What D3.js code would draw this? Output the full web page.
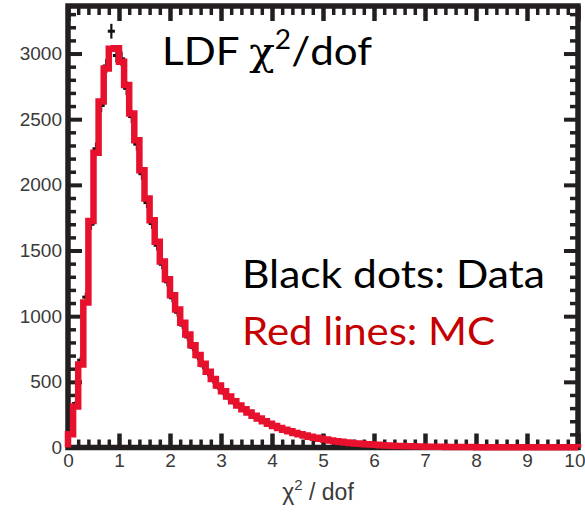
<!DOCTYPE html>
<html>
<head>
<meta charset="utf-8">
<script src="https://cdn.jsdelivr.net/npm/d3@7"></script>
<style>
  html, body { margin: 0; padding: 0; background: #fff; }
  svg { display: block; }
</style>
</head>
<body>
<svg id="chart" width="585" height="512"></svg>
<script>
// ---- data ----
const binWidth = 0.1;
const mcCounts = [
  100, 312, 632, 1104, 1724, 2245, 2635, 2886, 3036, 3040,
  2937, 2760, 2544, 2340, 2112, 1896, 1730, 1566, 1417, 1282,
  1160, 1050, 950, 860, 778, 704, 637, 577, 522, 472,
  428, 388, 352, 320, 292, 266, 242, 220, 199, 181,
  164, 149, 135, 123, 111, 101, 91, 82, 74, 67,
  60, 54, 48, 43, 39, 35, 31, 28, 25, 22,
  20, 18, 16, 14, 12, 11, 10, 9, 8, 7,
  6, 6, 5, 5, 4, 4, 4, 3, 3, 3,
  2, 2, 2, 2, 2, 2, 1, 1, 1, 1,
  1, 1, 1, 1, 1, 1, 1, 1, 1, 1
];
const dataCounts = [
  95, 335, 665, 1145, 1700, 2275, 2605, 2905, 3170, 2985,
  2960, 2735, 2520, 2310, 2085, 1865, 1705, 1540, 1395, 1262,
  1140, 1030, 932, 842, 762, 690, 622, 565, 510, 460,
  418, 378, 343, 312, 285, 259, 236, 214, 194, 176,
  160, 146, 132, 120, 108, 99, 89, 80, 72, 65,
  58, 52, 47, 42, 38, 34, 30, 27, 24, 21,
  19, 17, 15, 13, 12, 10, 9, 8, 7, 7,
  6, 5, 5, 4, 4, 3, 3, 3, 3, 2,
  2, 2, 2, 2, 1, 1, 1, 1, 1, 1,
  1, 1, 1, 1, 1, 1, 1, 1, 1, 1
];
const xMajorTicks = [0, 1, 2, 3, 4, 5, 6, 7, 8, 9, 10];
const xTickLabels = ["0", "1", "2", "3", "4", "5", "6", "7", "8", "9", "10"];
const yMajorTicks = [0, 500, 1000, 1500, 2000, 2500, 3000];
const yTickLabels = ["0", "500", "1000", "1500", "2000", "2500", "3000"];
const xMinorStep = 0.2;
const yMinorStep = 100;
const titleText = "LDF ";
const legendData = "Black dots: Data";
const legendMC = "Red lines: MC";

// ---- layout ----
const svg = d3.select("#chart");
const x = d3.scaleLinear().domain([0, 10]).range([68, 578]);
const y = d3.scaleLinear().domain([0, 3362]).range([447.5, 6]);
const frameColor = "#231f20";
const red = "#e8112d";
const labelFont = "'Liberation Sans', Arial, sans-serif";

const xMinor = d3.range(0, 10 + 1e-9, xMinorStep).filter(v => Math.abs(v - Math.round(v)) > 1e-6);
const yMinor = d3.range(0, 3362, yMinorStep).filter(v => v % 500 !== 0);

// data points (under the MC line)
const gData = svg.append("g");
dataCounts.forEach((c, i) => {
  const xc = x((i + 0.5) * binWidth);
  const err = Math.sqrt(c);
  gData.append("line")
    .attr("x1", xc).attr("x2", xc)
    .attr("y1", y(c + err)).attr("y2", y(Math.max(0, c - err)))
    .attr("stroke", "#111").attr("stroke-width", 2.2);
  gData.append("line")
    .attr("x1", x(i * binWidth) - 1).attr("x2", x((i + 1) * binWidth) + 1)
    .attr("y1", y(c)).attr("y2", y(c))
    .attr("stroke", "#111").attr("stroke-width", 3);
});

// frame
svg.append("rect")
  .attr("x", x(0)).attr("y", y(3362))
  .attr("width", x(10) - x(0)).attr("height", y(0) - y(3362))
  .attr("fill", "none").attr("stroke", frameColor).attr("stroke-width", 5.5);

function styleAxis(g, w) {
  g.select(".domain").remove();
  g.selectAll(".tick line").attr("stroke", frameColor).attr("stroke-width", w);
}

// bottom axis with labels
const gB = svg.append("g").attr("transform", `translate(0,${y(0)})`)
  .call(d3.axisBottom(x).tickValues(xMajorTicks).tickSize(-14).tickPadding(6)
    .tickFormat((d, i) => xTickLabels[i]));
styleAxis(gB, 4.5);
gB.selectAll("text").attr("font-family", labelFont)
  .attr("font-size", 19).attr("fill", "#3a3a3a");
gB.selectAll(".tick").filter(d => d === 10).select("text")
  .attr("text-anchor", "end").attr("x", 585 - x(10));
svg.append("g").attr("transform", `translate(0,${y(0)})`)
  .call(d3.axisBottom(x).tickValues(xMinor).tickSize(-8).tickFormat(""))
  .call(g => styleAxis(g, 3.5));
// top axis
svg.append("g").attr("transform", `translate(0,${y(3362)})`)
  .call(d3.axisTop(x).tickValues(xMajorTicks).tickSize(-15).tickFormat(""))
  .call(g => styleAxis(g, 4.5));
svg.append("g").attr("transform", `translate(0,${y(3362)})`)
  .call(d3.axisTop(x).tickValues(xMinor).tickSize(-9).tickFormat(""))
  .call(g => styleAxis(g, 3.5));
// left axis with labels
const gL = svg.append("g").attr("transform", `translate(${x(0)},0)`)
  .call(d3.axisLeft(y).tickValues(yMajorTicks).tickSize(-14).tickPadding(6)
    .tickFormat((d, i) => yTickLabels[i]));
styleAxis(gL, 4);
gL.selectAll("text").attr("font-family", labelFont)
  .attr("font-size", 19).attr("fill", "#3a3a3a");
svg.append("g").attr("transform", `translate(${x(0)},0)`)
  .call(d3.axisLeft(y).tickValues(yMinor).tickSize(-8).tickFormat(""))
  .call(g => styleAxis(g, 3.5));
// right axis
svg.append("g").attr("transform", `translate(${x(10)},0)`)
  .call(d3.axisRight(y).tickValues(yMajorTicks).tickSize(-14).tickFormat(""))
  .call(g => styleAxis(g, 4));
svg.append("g").attr("transform", `translate(${x(10)},0)`)
  .call(d3.axisRight(y).tickValues(yMinor).tickSize(-8).tickFormat(""))
  .call(g => styleAxis(g, 3.5));

// MC histogram outline
const pts = [[0, 0]];
mcCounts.forEach((c, i) => {
  pts.push([i * binWidth, c]);
  pts.push([(i + 1) * binWidth, c]);
});
pts.push([10, 0]);
svg.append("path")
  .datum(pts)
  .attr("d", d3.line().x(d => x(d[0])).y(d => y(d[1])))
  .attr("fill", "none").attr("stroke", red).attr("stroke-width", 6.5)
  .attr("stroke-linejoin", "miter");

// x-axis title
const xt = svg.append("text").attr("x", 318).attr("y", 500)
  .attr("text-anchor", "middle")
  .attr("font-family", labelFont)
  .attr("font-size", 23).attr("fill", "#3a3a3a");
xt.append("tspan").text("χ");
xt.append("tspan").attr("font-size", 15).attr("dy", -10).text("2");
xt.append("tspan").attr("dy", 10).text(" / dof");

// title
const geo = "'Lato', 'Noto Sans', sans-serif";
const tt = svg.append("text").attr("x", 162).attr("y", 65)
  .attr("font-family", geo).attr("font-size", 39).attr("fill", "#000")
  .attr("textLength", 210).attr("lengthAdjust", "spacingAndGlyphs");
tt.append("tspan").text(titleText);
tt.append("tspan").attr("font-family", "'DejaVu Serif', serif").text("χ");
tt.append("tspan").attr("font-size", 26).attr("dy", -16).text("2");
tt.append("tspan").attr("dy", 16).text("/dof");

// legend texts
svg.append("text").attr("x", 242).attr("y", 288)
  .attr("font-family", geo).attr("font-size", 38).attr("fill", "#000")
  .attr("textLength", 303).attr("lengthAdjust", "spacingAndGlyphs")
  .text(legendData);
svg.append("text").attr("x", 242).attr("y", 345)
  .attr("font-family", geo).attr("font-size", 38).attr("fill", "#c40000")
  .attr("textLength", 253).attr("lengthAdjust", "spacingAndGlyphs")
  .text(legendMC);
</script>
</body>
</html>
